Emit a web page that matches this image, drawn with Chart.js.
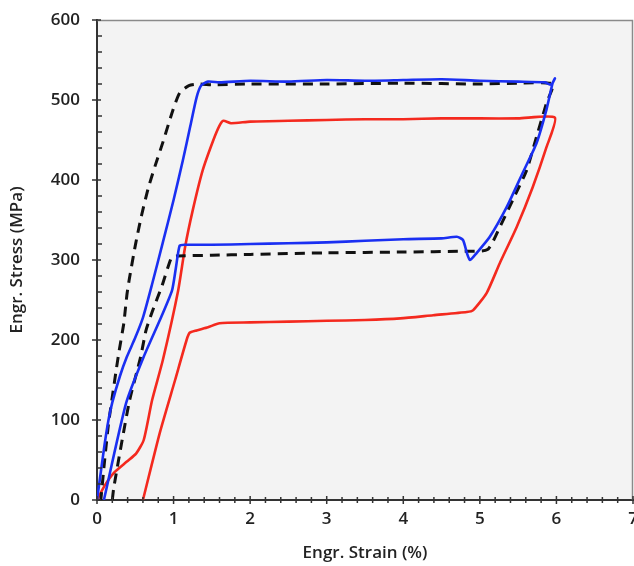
<!DOCTYPE html>
<html>
<head>
<meta charset="utf-8">
<script src="https://cdn.jsdelivr.net/npm/chart.js@4.4.1/dist/chart.umd.min.js"></script>
<style>
  html, body { margin: 0; padding: 0; background: #fff; }
  #c { display: block; }
</style>
</head>
<body>
<canvas id="c" width="634" height="566"></canvas>
<script>
// strain (%) / stress (MPa), each curve walked as one loop
const blueStrain = [0, 0.05, 0.1, 0.15, 0.2, 0.3, 0.39, 0.5, 0.6, 0.72, 0.86, 1.0, 1.12, 1.22, 1.3, 1.36, 1.45,
  1.6, 2.0, 2.5, 3.0, 3.5, 4.0, 4.5, 5.0, 5.5, 5.85, 5.93, 5.98,
  5.95, 5.87, 5.74, 5.56, 5.35, 5.13, 4.96, 4.87, 4.83, 4.78, 4.7, 4.5, 4.0, 3.5, 3.0, 2.5, 2.0, 1.5, 1.15, 1.08,
  1.03, 0.98, 0.84, 0.61, 0.38, 0.09];
const blueStress = [0, 35, 70, 100, 122, 155, 179, 203, 228, 270, 322, 375, 424, 468, 503, 518, 523,
  522, 524, 523, 525, 524, 525, 526, 524, 523, 522, 519, 527,
  521, 488, 446, 409, 366, 329, 309, 300, 309, 325, 329, 327, 326, 324, 322, 321, 320, 319, 319, 318,
  290, 262, 229, 179, 121, 0];

const blackStrain = [0.2, 0.22, 0.42, 0.57, 0.64, 0.72, 0.85, 0.93, 0.98, 1.05, 1.5, 2.0, 3.0, 4.0, 4.8, 5.1,
  5.26, 5.43, 5.61, 5.74, 5.87, 5.95,
  5.5, 5.0, 4.0, 3.0, 2.0, 1.5, 1.34, 1.2, 1.08, 0.99, 0.86, 0.76, 0.67, 0.58, 0.5, 0.42, 0.39, 0.35,
  0.29, 0.25, 0.2, 0.15, 0.1, 0.05];
const blackStress = [0, 16, 122, 179, 212, 235, 268, 292, 304, 305, 306, 307, 309, 310, 311, 313,
  341, 375, 412, 454, 496, 520,
  521, 520, 521, 520, 520, 519, 520, 518, 509, 487, 447, 418, 390, 355, 318, 275, 256, 221,
  187, 162, 129, 95, 50, 0];

const redStrain = [0, 0.1, 0.22, 0.39, 0.51, 0.61, 0.72, 0.86, 1.06, 1.15, 1.25, 1.38, 1.52, 1.6, 1.65, 1.75,
  2.0, 2.5, 3.0, 3.5, 4.0, 4.5, 5.0, 5.5, 5.98,
  5.87, 5.69, 5.48, 5.26, 5.09, 4.91, 4.83, 4.39, 3.96, 3.5, 3.0, 2.5, 2.0, 1.6, 1.45, 1.3, 1.21, 1.17,
  1.02, 0.82, 0.6];
const redStress = [0, 18, 34, 48, 58, 75, 125, 175, 262, 316, 362, 412, 450, 468, 474, 471,
  473, 474, 475, 476, 476, 477, 477, 477, 478,
  441, 391, 341, 296, 259, 237, 235, 231, 227, 225, 224, 223, 222, 221, 216, 212, 209, 200,
  150, 84, 0];

const xTitle = 'Engr. Strain (%)';
const yTitle = 'Engr. Stress (MPa)';

function pts(xs, ys) {
  return xs.map((x, i) => ({ x: x, y: ys[i] }));
}

const FONT = "'Open Sans', 'DejaVu Sans', sans-serif";

// grey plot area plus the thin frame on top and right
const frame = {
  id: 'frame',
  beforeDraw(chart) {
    const a = chart.chartArea, ctx = chart.ctx;
    ctx.save();
    ctx.fillStyle = '#f3f3f3';
    ctx.fillRect(a.left, a.top, a.right - a.left, a.bottom - a.top);
    ctx.restore();
  },
  afterDraw(chart) {
    const a = chart.chartArea, ctx = chart.ctx;
    ctx.save();
    ctx.strokeStyle = '#8a8a8a';
    ctx.lineWidth = 1.5;
    ctx.beginPath();
    ctx.moveTo(a.left, a.top + 0.5);
    ctx.lineTo(a.right - 0.5, a.top + 0.5);
    ctx.lineTo(a.right - 0.5, a.bottom);
    ctx.stroke();
    // tick marks crossing the axes
    ctx.strokeStyle = '#333';
    ctx.lineWidth = 1.5;
    const xs = chart.scales.x, ys = chart.scales.y;
    ctx.beginPath();
    xs.ticks.forEach((t, i) => {
      const p = xs.getPixelForTick(i);
      const big = Math.abs(t.value - Math.round(t.value)) < 1e-6;
      ctx.moveTo(p, a.bottom - (big ? 4 : 3));
      ctx.lineTo(p, a.bottom + (big ? 4 : 3));
    });
    ys.ticks.forEach((t, i) => {
      const p = ys.getPixelForTick(i);
      const big = t.value % 100 === 0;
      ctx.moveTo(a.left - (big ? 5 : 0), p);
      ctx.lineTo(a.left + (big ? 4 : 5), p);
    });
    ctx.stroke();
    ctx.restore();
  }
};

new Chart(document.getElementById('c'), {
  type: 'scatter',
  data: {
    datasets: [
      { data: pts(blueStrain, blueStress), borderColor: '#1a2ff2', borderWidth: 2.6 },
      { data: pts(blackStrain, blackStress), borderColor: '#111', borderWidth: 3, borderDash: [10, 7] },
      { data: pts(redStrain, redStress), borderColor: '#f4291e', borderWidth: 2.6 }
    ]
  },
  options: {
    responsive: false,
    animation: false,
    showLine: true,
    elements: { point: { radius: 0, hoverRadius: 0 }, line: { tension: 0.2 } },
    layout: { padding: { top: 20, right: 1, bottom: 0, left: 0 } },
    plugins: { legend: { display: false }, tooltip: { enabled: false } },
    scales: {
      x: {
        type: 'linear', min: 0, max: 7,
        grid: { display: true, drawOnChartArea: false, drawTicks: false },
        border: { display: true, color: '#333', width: 2 },
        ticks: {
          stepSize: 0.2, autoSkip: false, maxRotation: 0, padding: 9,
          color: '#222', font: { family: FONT, size: 17, weight: '600' },
          callback: v => Math.abs(v - Math.round(v)) < 1e-6 ? Math.round(v) : ''
        },
        title: { display: true, text: xTitle, color: '#222',
          font: { family: FONT, size: 17, weight: '600' }, padding: { top: 0, bottom: 3 } },
        afterFit(s) { s.height = 66; s.paddingLeft = 0; s.paddingRight = 0; }
      },
      y: {
        type: 'linear', min: 0, max: 600,
        grid: { display: true, drawOnChartArea: false, drawTicks: false },
        border: { display: true, color: '#333', width: 2 },
        ticks: {
          stepSize: 20, autoSkip: false, padding: 17,
          color: '#222', font: { family: FONT, size: 17, weight: '600' },
          callback: v => v % 100 === 0 ? v : ''
        },
        title: { display: true, text: yTitle, color: '#222',
          font: { family: FONT, size: 17, weight: '600' }, padding: { top: 7, bottom: 0 } },
        afterFit(s) { s.width = 97; s.paddingTop = 0; s.paddingBottom = 0; }
      }
    }
  },
  plugins: [frame]
});
</script>
</body>
</html>
